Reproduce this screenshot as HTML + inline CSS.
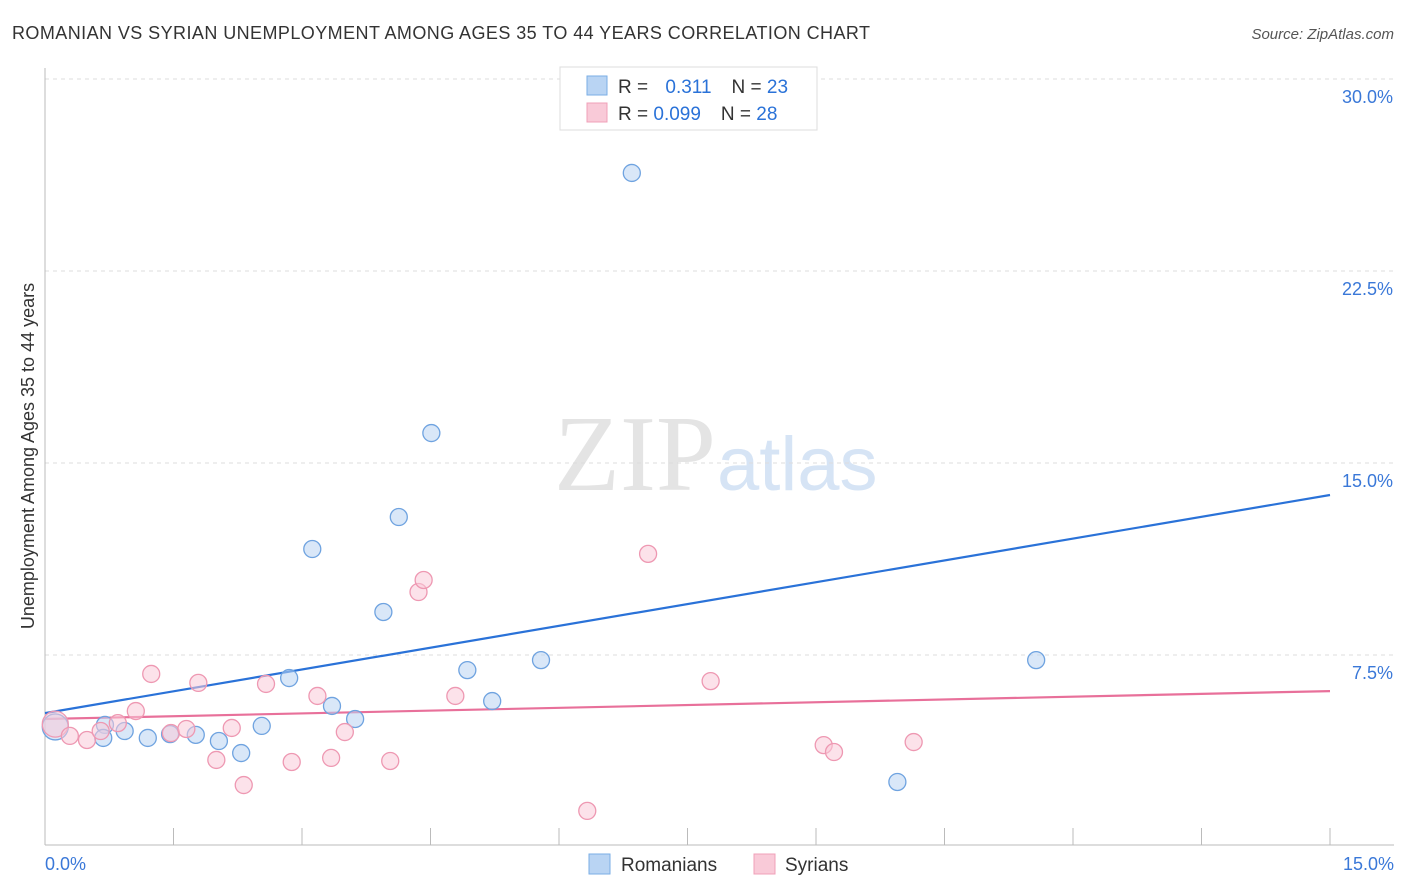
<!DOCTYPE html>
<html><head><meta charset="utf-8"><style>
body{margin:0;background:#fff;font-family:"Liberation Sans",sans-serif;}
svg{display:block}
</style></head><body>
<svg id="chart" width="1406" height="892">
<text x="12" y="39" font-size="18" fill="#333" textLength="858">ROMANIAN VS SYRIAN UNEMPLOYMENT AMONG AGES 35 TO 44 YEARS CORRELATION CHART</text>
<text x="1394" y="39" font-size="15" fill="#555" font-style="italic" text-anchor="end">Source: ZipAtlas.com</text>
<text x="716" y="490" font-size="108" font-family="Liberation Serif,serif" fill="#e4e4e4" text-anchor="end">ZIP</text>
<text x="717" y="490" font-size="76" fill="#d6e4f5">atlas</text>
<g id="grid"></g><g id="axes"></g>
<text transform="translate(34,456) rotate(-90)" font-size="18" fill="#333" text-anchor="middle">Unemployment Among Ages 35 to 44 years</text>
<g id="lines"></g><g id="points"></g>
<g>
<rect x="560" y="67" width="257" height="63" fill="#fff" stroke="#ddd"/>
<rect x="587" y="76" width="20" height="19" fill="#b9d4f3" stroke="#7aaee6"/>
<rect x="587" y="103" width="20" height="19" fill="#f9cad8" stroke="#f0a0b8"/>
<text x="618" y="93" font-size="19" fill="#333">R = <tspan fill="#2a72d8" dx="12">0.311</tspan><tspan dx="20" fill="#333">N = </tspan><tspan fill="#2a72d8">23</tspan></text>
<text x="618" y="120" font-size="19" fill="#333">R = <tspan fill="#2a72d8">0.099</tspan><tspan dx="20" fill="#333">N = </tspan><tspan fill="#2a72d8">28</tspan></text>
</g>
<g>
<rect x="589" y="854" width="21" height="20" fill="#b9d4f3" stroke="#7aaee6"/>
<text x="621" y="871" font-size="19" fill="#333">Romanians</text>
<rect x="754" y="854" width="21" height="20" fill="#f9cad8" stroke="#f0a0b8"/>
<text x="785" y="871" font-size="19" fill="#333">Syrians</text>
</g>
</svg>
<script>
const yTicks=[7.5,15,22.5,30];
const xTickLabels=["0.0%","15.0%"];
const romX=[0.12,0.70,0.68,0.93,1.20,1.46,1.76,2.03,2.29,2.53,2.85,3.12,3.35,3.62,3.95,4.13,4.51,4.93,5.22,5.79,6.85,9.95,11.57];
const romY=[4.69,4.77,4.26,4.53,4.26,4.41,4.38,4.14,3.67,4.73,6.60,11.64,5.51,5.0,9.18,12.89,16.17,6.91,5.70,7.30,26.33,2.54,7.30];
const syrX=[0.12,0.29,0.49,0.65,0.85,1.06,1.24,1.47,1.65,1.79,2.0,2.18,2.32,2.58,2.88,3.18,3.34,3.50,4.03,4.36,4.42,4.79,6.33,7.04,7.77,9.09,9.21,10.14];
const syrY=[4.8,4.34,4.18,4.53,4.84,5.31,6.76,4.45,4.61,6.41,3.4,4.65,2.42,6.37,3.32,5.90,3.48,4.49,3.36,9.96,10.43,5.90,1.41,11.45,6.48,3.98,3.71,4.10];
const romTrend=[5.23,13.75];
const syrTrend=[5.0,6.09];
const ns="http://www.w3.org/2000/svg";
const X=v=>45+v/15*1285, Y=v=>847-v*25.6;
function mk(t,a,p){const e=document.createElementNS(ns,t);for(const k in a)e.setAttribute(k,a[k]);document.getElementById(p).appendChild(e);return e;}
yTicks.forEach(t=>{
 const l=mk('line',{x1:45,x2:1394,y1:Y(t),y2:Y(t),stroke:'#ddd','stroke-dasharray':'4,4'},'grid');
 
 
 const tx=mk('text',{x:1393,y:Y(t)+24,'font-size':18,fill:'#3a78d8','text-anchor':'end'},'grid');
 tx.textContent=t.toFixed(1)+'%';
 
 
});
mk('line',{x1:45,x2:45,y1:68,y2:845,stroke:'#bbb'},'axes');
mk('line',{x1:45,x2:1394,y1:845,y2:845,stroke:'#bbb'},'axes');
for(let i=0;i<=10;i++){const l=mk('line',{x1:X(i*1.5),x2:X(i*1.5),y1:828,y2:845,stroke:'#bbb'},'axes');
 
 }
[[0,45,'start'],[1,1394,'end']].forEach(([i,x,a])=>{const t=mk('text',{x:x,y:870,'font-size':18,fill:'#3a78d8','text-anchor':a},'axes');t.textContent=xTickLabels[i];
 
 });
function pts(xs,ys,fill,stroke,name){xs.forEach((x,i)=>{const c=mk('circle',{cx:X(x),cy:Y(ys[i]),r:i==0?13:8.5,fill:fill,'fill-opacity':0.55,stroke:stroke,'stroke-width':1.3},'points');
 
 });}
pts(romX,romY,'#b9d4f3','#6fa3e0','romanian-point');
pts(syrX,syrY,'#f9cad8','#ee98b2','syrian-point');
const l1=mk('line',{x1:X(0),x2:X(15),y1:Y(romTrend[0]),y2:Y(romTrend[1]),stroke:'#2a72d8','stroke-width':2.2},'lines');


const l2=mk('line',{x1:X(0),x2:X(15),y1:Y(syrTrend[0]),y2:Y(syrTrend[1]),stroke:'#e8709a','stroke-width':2.2},'lines');


</script>
</body></html>
